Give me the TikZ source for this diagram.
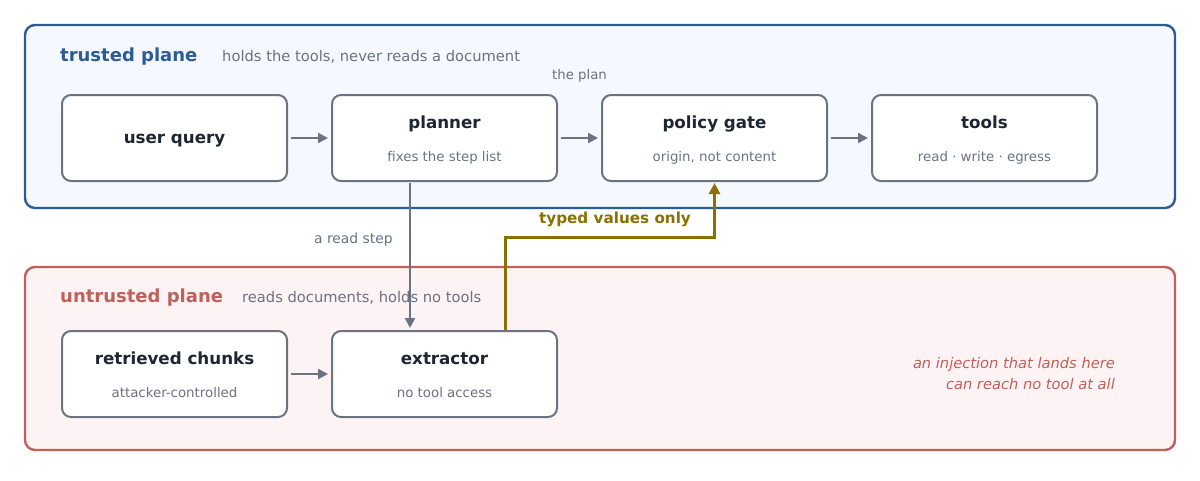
\documentclass[tikz,border=0pt]{standalone}
\usepackage{fontspec}
\setmainfont{DejaVu Sans}
\usetikzlibrary{arrows.meta,calc}
\definecolor{tblue}{RGB}{44,91,152}
\definecolor{tfill}{RGB}{245,248,254}
\definecolor{ured}{RGB}{192,96,90}
\definecolor{ufill}{RGB}{253,243,244}
\definecolor{bgray}{RGB}{107,114,128}
\definecolor{dtext}{RGB}{31,38,51}
\definecolor{olivec}{RGB}{138,112,0}
\tikzset{
  plane/.style={draw, line width=2.4pt, rounded corners=10pt, minimum width=1150pt, minimum height=183pt, inner sep=0pt},
  box/.style={draw=bgray, fill=white, line width=2pt, rounded corners=9pt, minimum width=225pt, minimum height=86pt, inner sep=0pt},
  ptitle/.style={anchor=base west, inner sep=0pt, font=\fontsize{18}{21}\selectfont\bfseries},
  psub/.style={anchor=base west, inner sep=0pt, text=bgray, font=\fontsize{14.7}{17}\selectfont},
  btitle/.style={anchor=base, inner sep=0pt, text=dtext, font=\fontsize{16.7}{19}\selectfont\bfseries},
  bsub/.style={anchor=base, inner sep=0pt, text=bgray, font=\fontsize{13.35}{16}\selectfont},
  lbl/.style={inner sep=0pt, text=bgray, font=\fontsize{13.3}{16}\selectfont},
  arr/.style={draw=bgray, line width=2pt, -{Triangle[length=10pt,width=10pt]}, shorten <=3pt, shorten >=3pt},
  oarr/.style={draw=olivec, line width=3pt, -{Triangle[length=11pt,width=11pt]}, shorten >=1pt},
}
\begin{document}
\begin{tikzpicture}[x=1pt,y=-1pt]
\useasboundingbox (0,0) rectangle (1200,480);
\fill[white] (0,0) rectangle (1200,480);
% planes
\node[plane, draw=tblue, fill=tfill] (trusted) at (600,116.5) {};
\node[plane, draw=ured, fill=ufill] (untrusted) at (600,358.5) {};
\node[ptitle, text=tblue] (ttitle) at (60,61) {trusted plane};
\node[psub] (tsub) at (222,61) {holds the tools, never reads a document};
\node[ptitle, text=ured] (utitle) at (60,302.5) {untrusted plane};
\node[psub] (usub) at (242,302.5) {reads documents, holds no tools};
% boxes
\node[box] (user) at (174.5,138) {};
\node[box] (planner) at (444.5,138) {};
\node[box] (policy) at (714.5,138) {};
\node[box] (tools) at (984.5,138) {};
\node[box] (chunks) at (174.5,374) {};
\node[box] (extractor) at (444.5,374) {};
% box texts
\node[btitle] (userT) at ($(user.center)+(0,5.5)$) {user query};
\node[btitle] (plannerT) at ($(planner.center)+(0,-10)$) {planner};
\node[bsub] (plannerS) at ($(planner.center)+(0,23)$) {fixes the step list};
\node[btitle] (policyT) at ($(policy.center)+(0,-10)$) {policy gate};
\node[bsub] (policyS) at ($(policy.center)+(0,23)$) {origin, not content};
\node[btitle] (toolsT) at ($(tools.center)+(0,-10)$) {tools};
\node[bsub] (toolsS) at ($(tools.center)+(0,23)$) {read · write · egress};
\node[btitle] (chunksT) at ($(chunks.center)+(0,-10)$) {retrieved chunks};
\node[bsub] (chunksS) at ($(chunks.center)+(0,23)$) {attacker-controlled};
\node[btitle] (extractorT) at ($(extractor.center)+(0,-10)$) {extractor};
\node[bsub] (extractorS) at ($(extractor.center)+(0,23)$) {no tool access};
% arrows
\draw[arr] (user) -- (planner);
\draw[arr] (planner) -- (policy);
\draw[arr] (policy) -- (tools);
\draw[arr] (chunks) -- (extractor);
\node[lbl, anchor=base] (plan) at (579.5,79) {the plan};
\draw[arr, shorten <=1pt, shorten >=2pt] ([xshift=-34.5pt]planner.south) -- ([xshift=-34.5pt]extractor.north);
\node[lbl, anchor=base east, font=\fontsize{13.9}{16}\selectfont] (readstep) at (393,243) {a read step};
\draw[oarr] ([xshift=60.5pt]extractor.north) -- ++(0,-93) -| (policy.south);
\node[inner sep=0pt, anchor=base, text=olivec, font=\fontsize{15.2}{17}\selectfont\bfseries] (typed) at (615,223) {typed values only};
\node[inner sep=0pt, anchor=east, align=right, text=ured, font=\fontsize{14.65}{21}\selectfont\itshape] (inj) at (1115,373.5) {an injection that lands here\\can reach no tool at all};
\end{tikzpicture}
\end{document}
